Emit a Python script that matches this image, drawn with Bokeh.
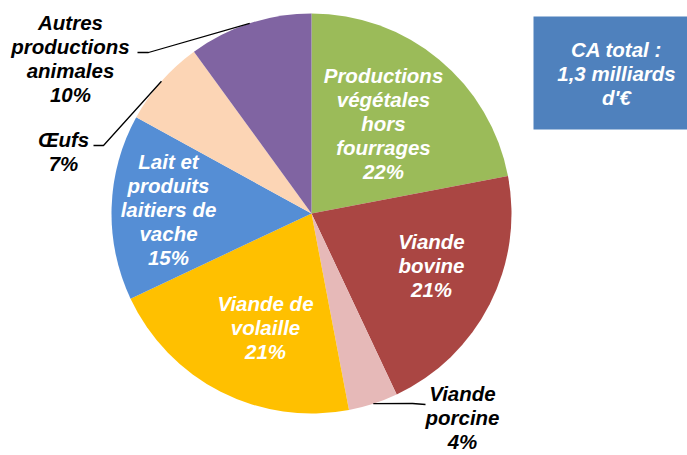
import numpy as np
from bokeh.plotting import figure
from bokeh.models import Range1d, ColumnDataSource
from bokeh.core.properties import value
from bokeh.embed import file_html
from bokeh.resources import INLINE

# ---- data ----
categories = ["Productions\nvégétales\nhors\nfourrages", "Viande\nbovine", "Viande\nporcine",
              "Viande de\nvolaille", "Lait et\nproduits\nlaitiers de\nvache", "Œufs",
              "Autres\nproductions\nanimales"]
shares = [22, 21, 4, 21, 15, 7, 10]
pct_labels = ["22%", "21%", "4%", "21%", "15%", "7%", "10%"]
colors = ["#9BBB59", "#AA4643", "#E6B9B8", "#FFC000", "#558ED5", "#FCD5B5", "#8064A2"]
total_label = "CA total :\n1,3 milliards\nd'€"

# ---- geometry (image pixel space; data y = H - image y) ----
W, H = 687, 455
cx, cy_img, R = 311, 213, 200
cy = H - cy_img

p = figure(width=W, height=H, output_backend="svg", toolbar_location=None,
           x_range=Range1d(0, W), y_range=Range1d(0, H),
           min_border=0, border_fill_color="white", background_fill_color="white")
p.axis.visible = False
p.grid.visible = False
p.outline_line_color = None

vals = np.array(shares, dtype=float)
frac = vals / vals.sum()
cum_end = np.cumsum(frac)
cum_start = cum_end - frac
start = np.pi / 2 - cum_end * 2 * np.pi
end = np.pi / 2 - cum_start * 2 * np.pi
mid = (start + end) / 2

src = ColumnDataSource(dict(start=start, end=end, color=colors))
p.wedge(x=cx, y=cy, radius=R, start_angle="start", end_angle="end",
        fill_color="color", line_color=None, source=src)

font = value("Liberation Sans")
FS = "20.5px"
LH = 1.05

# label block centres (image px)
lab_pos = {0: (383, 123), 1: (431, 265), 3: (265, 327), 4: (168, 209),
           6: (70, 58), 5: (63, 151), 2: (462, 417)}

# inside labels
inside = [0, 1, 3, 4]
ix = [lab_pos[i][0] for i in inside]
iy = [H - lab_pos[i][1] for i in inside]
it = [categories[i] + "\n" + pct_labels[i] for i in inside]
p.text(x=ix, y=iy, text=it, text_font=font, text_font_size=FS,
       text_font_style="bold italic", text_color="white",
       text_align="center", text_baseline="middle", text_line_height=LH)

# outside labels with leader lines
outside = [6, 5, 2]
elbows = {6: [(148, 52), (137, 52)], 5: [(103, 145), (93, 145)], 2: [(412, 403), (425, 404)]}
ox = [lab_pos[i][0] for i in outside]
oy = [H - lab_pos[i][1] for i in outside]
ot = [categories[i] + "\n" + pct_labels[i] for i in outside]
for i in outside:
    xs = [cx + R * np.cos(mid[i])] + [e[0] for e in elbows[i]]
    ys = [cy + R * np.sin(mid[i])] + [H - e[1] for e in elbows[i]]
    p.line(xs, ys, line_color="black", line_width=1.3)
p.text(x=ox, y=oy, text=ot, text_font=font, text_font_size=FS,
       text_font_style="bold italic", text_color="black",
       text_align="center", text_baseline="middle", text_line_height=LH)

# total box
p.quad(left=533, right=W, top=H - 16, bottom=H - 129, fill_color="#4F81BD", line_color=None)
p.text(x=[616], y=[H - 73], text=[total_label], text_font=font, text_font_size=FS,
       text_font_style="bold italic", text_color="white",
       text_align="center", text_baseline="middle", text_line_height=LH)

open("out.html", "w").write(file_html(p, INLINE))
